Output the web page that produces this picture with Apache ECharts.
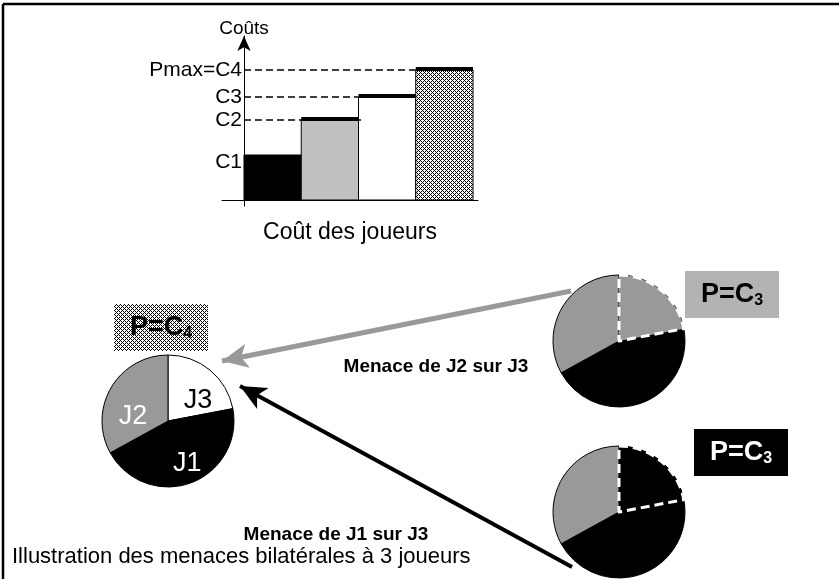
<!DOCTYPE html>
<html>
<head>
<meta charset="utf-8">
<script src="https://cdn.jsdelivr.net/npm/echarts@6.0.0/dist/echarts.min.js"></script>
<style>
html, body { margin: 0; padding: 0; background: #fff; }
#chart { width: 839px; height: 579px; }
</style>
</head>
<body>
<div id="chart"></div>
<script>
// bar part: cost of each player
var costLabels = ['C1', 'C2', 'C3', 'Pmax=C4'];
var costs = [45, 80, 103, 130];
var dashEnds = [null, 2.05, 2, 3];
var thickTop = [false, true, true, true];

// pies: share of each player, drawn clockwise from 12 o'clock as J3, J1, J2
var players = ['J1', 'J2', 'J3'];
var shares = [45, 33, 22];
var pieOrder = [2, 0, 1];

// J3's share is taken by J2 (top right) and by J1 (bottom right)
var threatFrom = [1, 0];
var threatText = ['Menace de J2 sur J3', 'Menace de J1 sur J3'];

var FONT = 'Liberation Sans, Arial, sans-serif';
var playerColors = ['#000000', '#999999', '#ffffff'];
var labelColors = ['#ffffff', '#ffffff', '#000000'];
// nudge of the J3, J1, J2 labels inside the left pie
var labelShift = [[7, 7], [7, 9], [-4, 14]];

function makeHatch() {
    var c = document.createElement('canvas');
    c.width = 4; c.height = 4;
    var ctx = c.getContext('2d');
    ctx.fillStyle = '#ffffff';
    ctx.fillRect(0, 0, 4, 4);
    ctx.fillStyle = '#000000';
    for (var y = 0; y < 4; y++) {
        for (var x = 0; x < 4; x++) {
            if ((x + y) % 4 === 0 || (x - y + 4) % 4 === 0) ctx.fillRect(x, y, 1, 1);
        }
    }
    return { image: c, repeat: 'repeat' };
}
var hatch = makeHatch();
var barFills = ['#000000', '#c0c0c0', '#ffffff', hatch];

var series = [];

// bars
series.push({
    type: 'custom',
    silent: true,
    data: costs.map(function (c, i) { return [i, c]; }),
    renderItem: function (params, api) {
        var i = api.value(0);
        var p0 = api.coord([i, api.value(1)]);
        var p1 = api.coord([i + 1, 0]);
        var kids = [{
            type: 'rect',
            shape: { x: p0[0], y: p0[1], width: p1[0] - p0[0], height: p1[1] - p0[1] },
            style: { fill: barFills[i], stroke: '#000', lineWidth: 1 }
        }];
        if (thickTop[i]) {
            kids.push({
                type: 'line',
                shape: { x1: p0[0], y1: p0[1] - 1, x2: p1[0], y2: p0[1] - 1 },
                style: { stroke: '#000', lineWidth: 4 }
            });
        }
        return { type: 'group', children: kids };
    }
});

// dashed guides
costs.forEach(function (c, i) {
    if (dashEnds[i] == null) return;
    series.push({
        type: 'line',
        silent: true,
        symbol: 'none',
        data: [[0, c], [dashEnds[i], c]],
        lineStyle: { color: '#000', width: 1.5, type: [7, 4] }
    });
});

// arrows
series.push({
    type: 'line',
    data: [],
    markLine: {
        silent: true,
        animation: false,
        symbol: ['none', 'arrow'],
        symbolSize: [18, 26],
        label: { show: false },
        emphasis: { disabled: true },
        data: [
            [{ x: 571, y: 291, lineStyle: { color: '#999999', width: 5, type: 'solid' } }, { x: 222, y: 361 }],
            [{ x: 572, y: 567, lineStyle: { color: '#000000', width: 4, type: 'solid' } }, { x: 240, y: 386 }]
        ]
    }
});

function pieItems(special, overlay) {
    return pieOrder.map(function (k) {
        var col = playerColors[k];
        if (k === 2 && special != null) col = playerColors[special];
        var item = { name: players[k], value: shares[k], itemStyle: { color: col } };
        if (overlay) {
            if (k === 2) {
                item.itemStyle.borderColor = '#ffffff';
                item.itemStyle.borderWidth = 3;
                item.itemStyle.borderType = [9, 5];
            } else {
                item.itemStyle = { color: 'rgba(0,0,0,0)', borderWidth: 0 };
            }
        }
        if (special == null) item.label = { color: labelColors[k] };
        return item;
    });
}

// left pie: initial split
series.push({
    type: 'pie',
    silent: true,
    center: [168, 421],
    radius: 66,
    avoidLabelOverlap: false,
    itemStyle: { borderColor: '#000', borderWidth: 1 },
    label: { show: true, position: 'inside', formatter: '{b}', fontSize: 27, fontFamily: FONT },
    labelLine: { show: false },
    labelLayout: function (params) {
        var s = labelShift[params.dataIndex];
        return { dx: s[0], dy: s[1] };
    },
    data: pieItems(null, false)
});

// right pies: after threat
var pieCenters = [[619, 341], [619, 512]];
threatFrom.forEach(function (f, t) {
    series.push({
        type: 'pie',
        silent: true,
        center: pieCenters[t],
        radius: 66,
        itemStyle: { borderColor: '#000', borderWidth: 1 },
        label: { show: false },
        labelLine: { show: false },
        data: pieItems(f, false)
    });
    series.push({
        type: 'pie',
        silent: true,
        center: pieCenters[t],
        radius: 66,
        label: { show: false },
        labelLine: { show: false },
        data: pieItems(f, true)
    });
});

function boxText(main, sub, color) {
    return {
        text: '{a|' + main + '}{b|' + sub + '}',
        rich: {
            a: { fontSize: 27, fontWeight: 'bold', fontFamily: FONT, fill: color, verticalAlign: 'bottom' },
            b: { fontSize: 16, fontWeight: 'bold', fontFamily: FONT, fill: color, verticalAlign: 'bottom' }
        }
    };
}
function box(x, y, fill, main, sub, color) {
    var st = boxText(main, sub, color);
    st.x = x + 47; st.y = y + 24; st.align = 'center'; st.verticalAlign = 'middle';
    return [
        { type: 'rect', shape: { x: x, y: y, width: 94, height: 47 }, style: { fill: fill } },
        { type: 'text', style: st }
    ];
}

var graphics = [
    { type: 'line', shape: { x1: 3, y1: 4, x2: 839, y2: 4 }, style: { stroke: '#000', lineWidth: 2.5 } },
    { type: 'line', shape: { x1: 3, y1: 4, x2: 3, y2: 579 }, style: { stroke: '#000', lineWidth: 2.5 } },
    { type: 'text', style: { text: threatText[0], x: 436, y: 367, align: 'center', verticalAlign: 'middle', fontSize: 19, fontWeight: 'bold', fontFamily: FONT, fill: '#000' } },
    { type: 'text', style: { text: threatText[1], x: 336, y: 535, align: 'center', verticalAlign: 'middle', fontSize: 19, fontWeight: 'bold', fontFamily: FONT, fill: '#000' } },
    { type: 'text', style: { text: 'Illustration des menaces bilatérales à 3 joueurs', x: 12, y: 557, align: 'left', verticalAlign: 'middle', fontSize: 22, fontFamily: FONT, fill: '#000' } }
].concat(
    box(114, 304, hatch, 'P=C', '4', '#000'),
    box(685, 271, '#b3b3b3', 'P=C', '3', '#000'),
    box(694, 429, '#000000', 'P=C', '3', '#fff')
);

var option = {
    animation: false,
    backgroundColor: '#fff',
    grid: { left: 222, right: 361, top: 36, bottom: 373 },
    xAxis: {
        type: 'value',
        min: -0.384,
        max: 4.087,
        name: 'Coût des joueurs',
        nameLocation: 'middle',
        nameGap: 15,
        nameTextStyle: { fontSize: 23, color: '#000', fontFamily: FONT },
        axisLine: { lineStyle: { color: '#000', width: 1 } },
        axisTick: { show: false },
        axisLabel: { show: false },
        splitLine: { show: false }
    },
    yAxis: {
        type: 'value',
        min: -6,
        max: 164,
        name: 'Coûts',
        nameLocation: 'end',
        nameGap: -2,
        nameTextStyle: { fontSize: 19, color: '#000', fontFamily: FONT },
        axisLine: { show: true, symbol: ['none', 'arrow'], symbolSize: [10, 15], lineStyle: { color: '#000', width: 1 } },
        axisTick: { show: false },
        splitLine: { show: false },
        axisLabel: {
            customValues: costs,
            margin: -20,
            fontSize: 21,
            color: '#000',
            fontFamily: FONT,
            formatter: function (v) {
                var i = costs.indexOf(v);
                return i === 0 ? '{low|' + costLabels[0] + '}' : costLabels[i];
            },
            rich: { low: { fontSize: 21, color: '#000', fontFamily: FONT, padding: [14, 0, 0, 0] } }
        }
    },
    graphic: graphics,
    series: series
};

var myChart = echarts.init(document.getElementById('chart'));
myChart.setOption(option);
</script>
</body>
</html>
